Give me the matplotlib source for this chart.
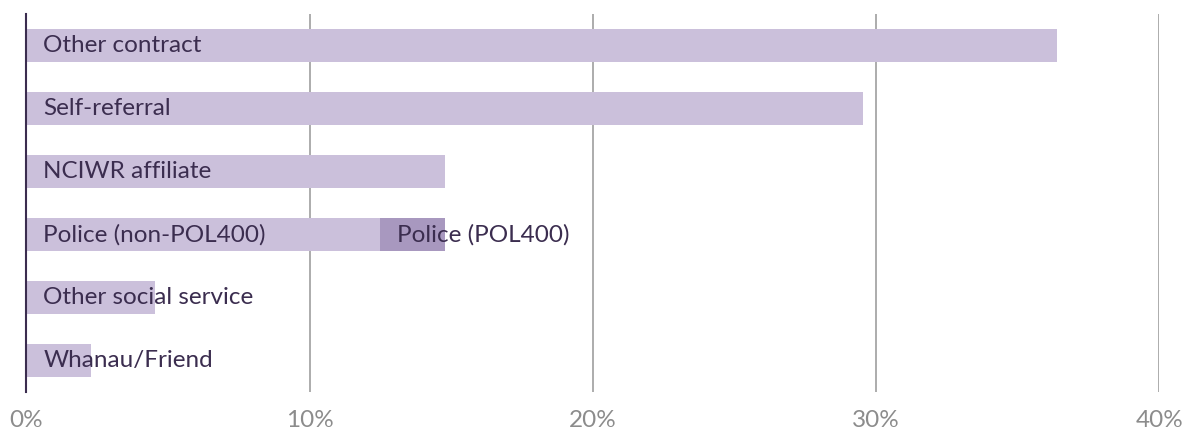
import matplotlib
matplotlib.use("Agg")
import matplotlib.pyplot as plt
from matplotlib.transforms import offset_copy

categories = ["Other contract", "Self-referral", "NCIWR affiliate",
              "Police (non-POL400)", "Other social service", "Whanau/Friend"]
values = [36.38, 29.55, 14.78, 12.49, 4.55, 2.27]
pol400_label = "Police (POL400)"
pol400_value = 2.29
pol400_row = 3
ticks = [0, 10, 20, 30, 40]
tick_labels = ["0%", "10%", "20%", "30%", "40%"]

LIGHT = "#CBC0DB"
DARK = "#A898BF"
TEXT = "#3B2D4F"

plt.rcParams["font.family"] = ["Lato", "DejaVu Sans"]
fig = plt.figure(figsize=(11.84, 4.34), dpi=100)
ax = fig.add_axes([26.3 / 1184, 1 - 392 / 434, (1159.3 - 26.3) / 1184, (392 - 14) / 434])

ys = list(range(len(categories)))
ax.barh(ys, values, height=0.53, color=LIGHT, zorder=2)
ax.barh([pol400_row], [pol400_value], left=[values[pol400_row]], height=0.53, color=DARK, zorder=2)

# labels sit inside the bars, a little right of each segment start
off = offset_copy(ax.transData, fig=fig, x=17, y=0, units="dots")
for y, lab in zip(ys, categories):
    ax.text(0, y, lab, transform=off, va="center", ha="left", fontsize=17.5, color=TEXT, zorder=3)
ax.text(values[pol400_row], pol400_row, pol400_label, transform=off, va="center", ha="left",
        fontsize=17.5, color=TEXT, zorder=3)

ax.set_xlim(0, 40)
ax.set_ylim(len(categories) - 0.5, -0.5)
ax.set_xticks(ticks)
ax.set_xticklabels(tick_labels)
ax.set_yticks([])
ax.tick_params(axis="x", length=0, pad=13, labelsize=17.5, labelcolor="#8C8C8C")
ax.xaxis.grid(True, color="#A6A6A6", lw=1.3, zorder=0)
ax.set_axisbelow(True)
for s in ["top", "right", "bottom"]:
    ax.spines[s].set_visible(False)
ax.spines["left"].set_color(TEXT)
ax.spines["left"].set_linewidth(1.5)
ax.spines["left"].set_zorder(4)

fig.savefig("out.png", dpi=100)
